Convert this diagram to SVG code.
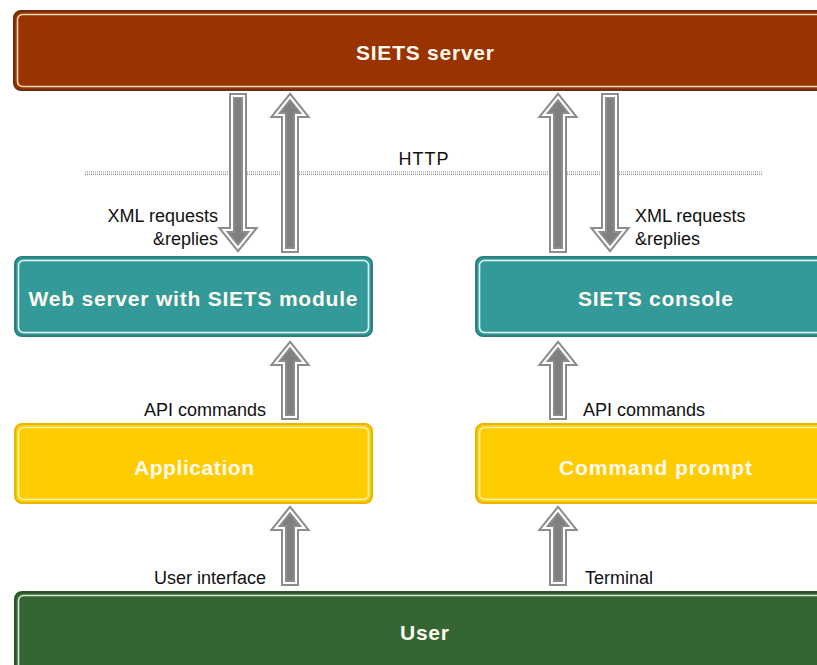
<svg xmlns="http://www.w3.org/2000/svg" xmlns:xlink="http://www.w3.org/1999/xlink" width="817" height="665" viewBox="0 0 817 665">
<style>
.title{font-family:"Liberation Sans",Arial,sans-serif;font-weight:bold;font-size:21px;fill:#fffaf0;text-anchor:middle}
.lbl{font-family:"Liberation Sans",Arial,sans-serif;font-size:18px;fill:#111}
.end{text-anchor:end}
.ao{fill:#7f7f7f;stroke:#8c8c8c;stroke-width:6;stroke-linejoin:miter}
.ai{fill:none;stroke:#ffffff;stroke-width:2;stroke-linejoin:miter}
.inner{fill:none;stroke-width:1.6}
.dot{stroke:#8a8a8a;stroke-width:1.2;stroke-dasharray:1,1}
</style>
<defs>
<polygon id="upXL" points="290,97 304.5,115 296,115 296,250 284,250 284,115 275.5,115"/>
<polygon id="dnXL" points="232,96 244,96 244,230 252.5,230 238,248 223.5,230 232,230"/>
<polygon id="upXR" points="558,97 572.5,115 564,115 564,250 552,250 552,115 543.5,115"/>
<polygon id="dnXR" points="604,96 616,96 616,230 624.5,230 610,248 595.5,230 604,230"/>
<polygon id="upML" points="290,345 304.5,363 296,363 296,417 284,417 284,363 275.5,363"/>
<polygon id="upMR" points="558,345 572.5,363 564,363 564,417 552,417 552,363 543.5,363"/>
<polygon id="upBL" points="290,510 304.5,528 296,528 296,583 284,583 284,528 275.5,528"/>
<polygon id="upBR" points="558,510 572.5,528 564,528 564,583 552,583 552,528 543.5,528"/>
</defs>
<rect width="817" height="665" fill="#ffffff"/>

<g id="http-line">
<line class="dot" x1="85" y1="172" x2="762" y2="172"/>
<line class="dot" x1="85" y1="174.4" x2="762" y2="174.4"/>
<text class="lbl" x="424" y="165" text-anchor="middle" letter-spacing="1">HTTP</text>
</g>

<g id="siets-server">
<rect x="14" y="11" width="822" height="79" rx="7" fill="#993300" stroke="#6e2d10" stroke-width="2"/>
<rect class="inner" x="17.5" y="14.5" width="815" height="72" rx="5" stroke="#f3dcb6"/>
<text class="title" x="425" y="60" textLength="138" lengthAdjust="spacing">SIETS server</text>
</g>

<g id="web-server">
<rect x="15" y="257" width="357" height="79" rx="7" fill="#339999" stroke="#2a7f7f" stroke-width="2"/>
<rect class="inner" x="18.5" y="260.5" width="350" height="72" rx="5" stroke="#e8f6f6"/>
<text class="title" x="193" y="306" textLength="329" lengthAdjust="spacing">Web server with SIETS module</text>
</g>

<g id="siets-console">
<rect x="476" y="257" width="360" height="79" rx="7" fill="#339999" stroke="#2a7f7f" stroke-width="2"/>
<rect class="inner" x="479.5" y="260.5" width="353" height="72" rx="5" stroke="#e8f6f6"/>
<text class="title" x="655.5" y="306" textLength="155" lengthAdjust="spacing">SIETS console</text>
</g>

<g id="application">
<rect x="15" y="424" width="357" height="79" rx="7" fill="#ffcc00" stroke="#e8b600" stroke-width="2"/>
<rect class="inner" x="18.5" y="427.5" width="350" height="72" rx="5" stroke="#fff3b0"/>
<text class="title" x="194" y="475" textLength="120" lengthAdjust="spacing">Application</text>
</g>

<g id="command-prompt">
<rect x="476" y="424" width="360" height="79" rx="7" fill="#ffcc00" stroke="#e8b600" stroke-width="2"/>
<rect class="inner" x="479.5" y="427.5" width="353" height="72" rx="5" stroke="#fff3b0"/>
<text class="title" x="655.5" y="475" textLength="193" lengthAdjust="spacing">Command prompt</text>
</g>

<g id="user">
<rect x="15" y="592" width="820" height="82" rx="7" fill="#336633" stroke="#2a552a" stroke-width="2"/>
<rect class="inner" x="18.5" y="595.5" width="813" height="75" rx="5" stroke="#dceadc"/>
<text class="title" x="424.5" y="640" textLength="49" lengthAdjust="spacing">User</text>
</g>

<g id="connectors">
<use xlink:href="#dnXL" class="ao"/><use xlink:href="#dnXL" class="ai"/>
<use xlink:href="#upXL" class="ao"/><use xlink:href="#upXL" class="ai"/>
<use xlink:href="#upXR" class="ao"/><use xlink:href="#upXR" class="ai"/>
<use xlink:href="#dnXR" class="ao"/><use xlink:href="#dnXR" class="ai"/>
<use xlink:href="#upML" class="ao"/><use xlink:href="#upML" class="ai"/>
<use xlink:href="#upMR" class="ao"/><use xlink:href="#upMR" class="ai"/>
<use xlink:href="#upBL" class="ao"/><use xlink:href="#upBL" class="ai"/>
<use xlink:href="#upBR" class="ao"/><use xlink:href="#upBR" class="ai"/>
<text class="lbl end" x="218" y="222">XML requests</text>
<text class="lbl end" x="218" y="245">&amp;replies</text>
<text class="lbl" x="635" y="222">XML requests</text>
<text class="lbl" x="635" y="245">&amp;replies</text>
<text class="lbl end" x="266" y="416">API commands</text>
<text class="lbl" x="583" y="416">API commands</text>
<text class="lbl end" x="266" y="584">User interface</text>
<text class="lbl" x="585" y="584">Terminal</text>
</g>
</svg>
